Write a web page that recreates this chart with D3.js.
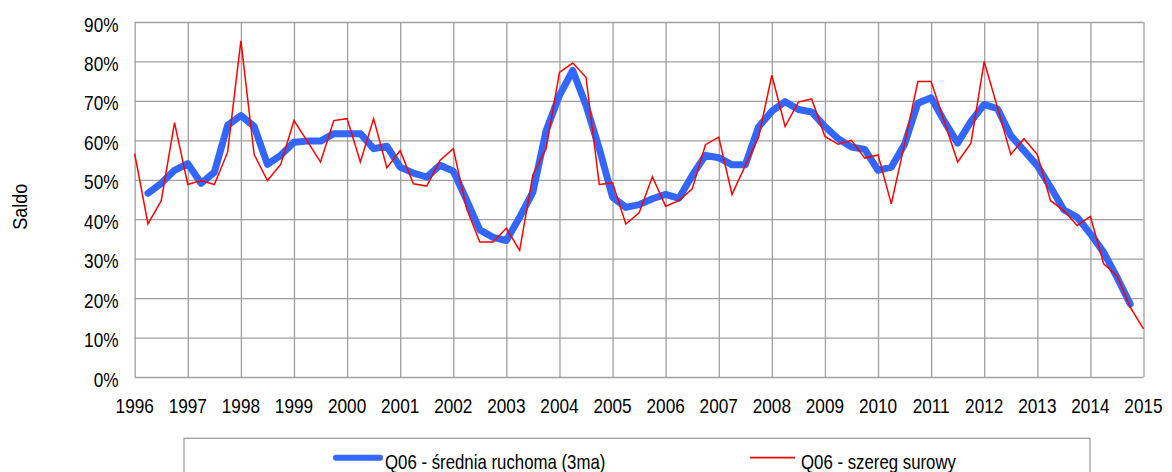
<!DOCTYPE html>
<html>
<head>
<meta charset="utf-8">
<script src="https://cdn.jsdelivr.net/npm/d3@7"></script>
<style>
  html, body { margin: 0; padding: 0; background: #fff; }
  svg { display: block; font-family: "Liberation Sans", Arial, sans-serif; }
</style>
</head>
<body>
<div id="chart"></div>
<script>
// tick labels along the x axis (one per year, data are quarterly)
const years = [1996, 1997, 1998, 1999, 2000, 2001, 2002, 2003, 2004, 2005,
  2006, 2007, 2008, 2009, 2010, 2011, 2012, 2013, 2014, 2015];
const quarters = ["Q1", "Q2", "Q3", "Q4"];
const yTicks = [0, 0.1, 0.2, 0.3, 0.4, 0.5, 0.6, 0.7, 0.8, 0.9];

// Q06 - szereg surowy (raw series), 1996 Q1 .. 2015 Q1, in %
const rawSeries = [
  56.6, 38.8, 44.7, 64.5, 48.8, 49.8, 48.8, 57.0, 85.2, 56.4,
  49.8, 53.9, 65.0, 59.8, 54.5, 65.0, 65.5, 54.5, 65.5, 53.0,
  57.4, 49.0, 48.4, 54.9, 57.9, 42.7, 34.2, 34.2, 37.7, 32.1,
  51.3, 57.9, 77.2, 79.6, 76.0, 48.8, 49.2, 38.8, 41.6, 50.8,
  43.3, 44.7, 47.7, 58.9, 60.8, 46.3, 53.6, 60.8, 76.5, 63.5,
  69.7, 70.5, 61.0, 59.0, 60.0, 55.5, 56.3, 43.9, 59.1, 74.9,
  74.9, 64.7, 54.5, 59.3, 80.0, 68.3, 56.4, 60.4, 56.4, 44.7,
  42.2, 38.4, 40.7, 28.7, 25.7, 17.7, 12.2
];

// Q06 - średnia ruchoma (3ma), null where not defined
const maSeries = [
  null, 46.6, 49.1, 52.4, 54.1, 49.1, 51.9, 63.8, 66.3, 63.5,
  53.9, 56.2, 59.5, 59.8, 59.8, 61.7, 61.7, 61.7, 57.9, 58.5,
  53.2, 51.7, 50.7, 53.7, 52.2, 44.9, 37.3, 35.4, 34.6, 40.5,
  46.9, 62.5, 71.4, 77.7, 68.9, 57.9, 45.6, 43.0, 43.7, 45.2,
  46.3, 45.3, 51.1, 56.2, 55.6, 53.8, 53.8, 63.4, 67.4, 69.8,
  67.8, 67.2, 63.5, 60.4, 58.3, 57.7, 52.4, 53.2, 59.0, 69.4,
  70.8, 64.8, 59.3, 64.8, 69.1, 68.0, 61.2, 57.4, 53.6, 48.1,
  42.4, 40.5, 36.3, 31.6, 25.3, 18.5, null
];

const seriesNames = ["Q06 - średnia ruchoma (3ma)", "Q06 - szereg surowy"];

// category list: every quarter from 1996 Q1 to 2015 Q1
const categories = [];
years.forEach((yr) => quarters.forEach((q) => categories.push(yr + " " + q)));
categories.length = rawSeries.length;

const W = 1172, H = 472;
const plot = { left: 134.7, right: 1143.5, top: 22, bottom: 377 };
const txtScale = 0.82; // source text is a narrow face

const svg = d3.select("#chart").append("svg")
  .attr("width", W)
  .attr("height", H);

const x = d3.scalePoint()
  .domain(categories)
  .range([plot.left, plot.right]);

const y = d3.scaleLinear()
  .domain([0, 0.9])
  .range([plot.bottom, plot.top]);

const yearCats = years.map((yr) => yr + " Q1");

// grid (horizontal)
svg.append("g")
  .attr("transform", `translate(${plot.left},0)`)
  .call(d3.axisLeft(y).tickValues(yTicks).tickSize(-(plot.right - plot.left)).tickFormat(""))
  .call((g) => g.select(".domain").remove())
  .call((g) => g.selectAll("line").attr("stroke", "#a0a0a0").attr("stroke-width", 1.3));

// grid (vertical, one per year)
svg.append("g")
  .attr("transform", `translate(0,${plot.bottom})`)
  .call(d3.axisBottom(x).tickValues(yearCats).tickSize(-(plot.bottom - plot.top)).tickFormat(""))
  .call((g) => g.select(".domain").remove())
  .call((g) => g.selectAll("line").attr("stroke", "#a0a0a0").attr("stroke-width", 1.3));

// y tick labels
svg.append("g")
  .selectAll("text")
  .data(yTicks)
  .join("text")
  .attr("transform", (d) => `translate(118.5,${y(d) + 9.5}) scale(${txtScale},1)`)
  .attr("text-anchor", "end")
  .style("font-size", "21px")
  .attr("fill", "#000")
  .text((d) => d3.format(".0%")(d));

// x tick labels
svg.append("g")
  .selectAll("text")
  .data(years)
  .join("text")
  .attr("transform", (d) => `translate(${x(d + " Q1")},412.7) scale(${txtScale},1)`)
  .attr("text-anchor", "middle")
  .style("font-size", "21px")
  .attr("fill", "#000")
  .text((d) => d);

// y axis title
svg.append("text")
  .attr("transform", "translate(27,206.7) rotate(-90) scale(0.9,1)")
  .attr("text-anchor", "middle")
  .style("font-size", "20px")
  .attr("fill", "#000")
  .text("Saldo");

const line = d3.line()
  .defined((d) => d != null)
  .x((d, i) => x(categories[i]))
  .y((d) => y(d / 100));

// moving average (thick blue), drawn under the raw series
svg.append("path")
  .datum(maSeries)
  .attr("fill", "none")
  .attr("stroke", "#3366ff")
  .attr("stroke-width", 7)
  .attr("stroke-linejoin", "round")
  .attr("stroke-linecap", "round")
  .attr("d", line);

svg.append("path")
  .datum(rawSeries)
  .attr("fill", "none")
  .attr("stroke", "#ff0000")
  .attr("stroke-width", 1.5)
  .attr("stroke-linejoin", "miter")
  .attr("d", line);

// legend box, runs off the bottom edge like the original
const legend = svg.append("g");

legend.append("rect")
  .attr("x", 184)
  .attr("y", 438.3)
  .attr("width", 1090 - 184)
  .attr("height", 60)
  .attr("fill", "#fff")
  .attr("stroke", "#a0a0a0")
  .attr("stroke-width", 1.3);

const legendItems = [
  { name: seriesNames[0], x0: 336, x1: 380, color: "#3366ff", width: 6, cap: "round", tx: 385 },
  { name: seriesNames[1], x0: 750, x1: 795, color: "#ff0000", width: 1.8, cap: "butt", tx: 801 },
];

legend.selectAll("line")
  .data(legendItems)
  .join("line")
  .attr("x1", (d) => d.x0)
  .attr("x2", (d) => d.x1)
  .attr("y1", 457.7)
  .attr("y2", 457.7)
  .attr("stroke", (d) => d.color)
  .attr("stroke-width", (d) => d.width)
  .attr("stroke-linecap", (d) => d.cap);

legend.selectAll("text")
  .data(legendItems)
  .join("text")
  .attr("transform", (d) => `translate(${d.tx},469.3) scale(${txtScale},1)`)
  .style("font-size", "20.5px")
  .attr("fill", "#000")
  .text((d) => d.name);
</script>
</body>
</html>
